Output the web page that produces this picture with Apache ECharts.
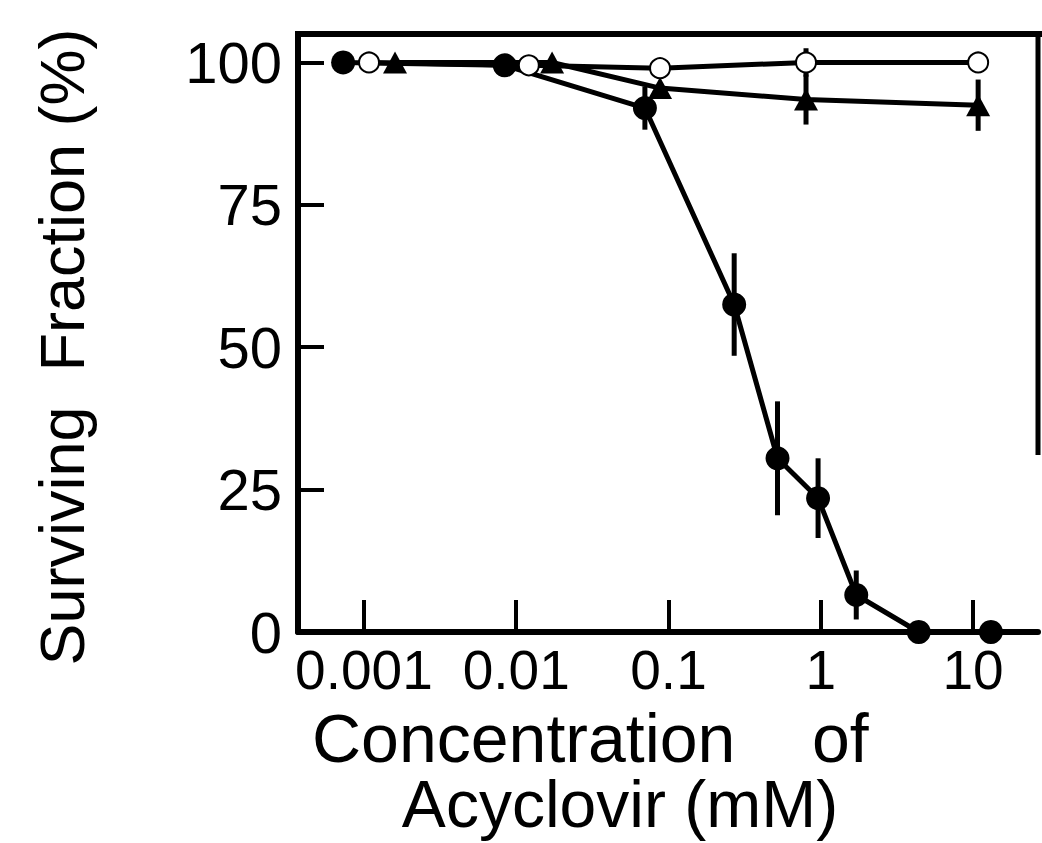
<!DOCTYPE html>
<html>
<head>
<meta charset="utf-8">
<script src="https://cdn.jsdelivr.net/npm/echarts@6/dist/echarts.min.js"></script>
<style>
  html, body { margin: 0; padding: 0; background: #fff; }
  #chart { width: 1042px; height: 843px; }
</style>
</head>
<body>
<div id="chart"></div>
<script>
// x tick values (mM), y tick values (%)
const xTicks = [0.001, 0.01, 0.1, 1, 10];
const xTickLabels = ['0.001', '0.01', '0.1', '1', '10'];
const yTicks = [0, 25, 50, 75, 100];

// filled circles
const concFilled = [0.00073, 0.0084, 0.070, 0.27, 0.52, 0.96, 1.71, 4.4, 13.1];
const survFilled = [100, 99.5, 92, 57.5, 30.5, 23.5, 6.5, 0, 0];
const errFilled = [0, 0, 3.8, 9, 10, 7, 4.3, 0, 0];

// open circles
const concOpen = [0.00108, 0.0121, 0.088, 0.80, 10.8];
const survOpen = [100, 99.5, 99, 100, 100];
const errOpen = [0, 0, 0, 2.5, 0];

// filled triangles
const concTri = [0.0016, 0.0172, 0.088, 0.80, 10.8];
const survTri = [100, 100, 95.5, 93.5, 92.5];
const errTri = [0, 0, 0, 4.4, 4.5];

const FONT = "'Liberation Sans', Arial, sans-serif";

const pairs = (xs, ys) => xs.map((x, i) => [x, ys[i]]);
const bars = (xs, ys, es) =>
  xs.map((x, i) => [x, ys[i] - es[i], ys[i] + es[i]]).filter((d, i) => es[i] > 0);

// vertical error bars without caps
const errorSeries = (data) => ({
  type: 'custom',
  z: 1,
  data: data,
  renderItem: function (params, api) {
    const lo = api.coord([api.value(0), api.value(1)]);
    const hi = api.coord([api.value(0), api.value(2)]);
    return {
      type: 'line',
      shape: { x1: lo[0], y1: lo[1], x2: hi[0], y2: hi[1] },
      style: { stroke: '#000', lineWidth: 5 }
    };
  }
});

const chart = echarts.init(document.getElementById('chart'), null, { renderer: 'svg' });

chart.setOption({
  animation: false,
  backgroundColor: '#fff',
  grid: { left: 298, right: 4, top: 34, bottom: 211 },
  xAxis: {
    type: 'log',
    logBase: 10,
    min: 0.000369,
    max: 26.7,
    axisLine: { lineStyle: { color: '#000', width: 6 } },
    axisTick: {
      inside: true,
      length: 32,
      customValues: xTicks,
      lineStyle: { color: '#000', width: 4 }
    },
    axisLabel: {
      customValues: xTicks,
      formatter: (v) => xTickLabels[xTicks.findIndex((t) => Math.abs(t - v) / t < 1e-6)],
      color: '#000',
      fontSize: 55,
      fontFamily: FONT,
      margin: 10
    },
    splitLine: { show: false },
    minorTick: { show: false }
  },
  yAxis: {
    type: 'value',
    min: 0,
    max: 105,
    axisLine: { show: true, lineStyle: { color: '#000', width: 6 } },
    axisTick: {
      inside: true,
      length: 26,
      customValues: yTicks,
      lineStyle: { color: '#000', width: 4 }
    },
    axisLabel: {
      customValues: yTicks,
      color: '#000',
      fontSize: 58,
      fontFamily: FONT,
      margin: 16
    },
    splitLine: { show: false }
  },
  graphic: [
    {
      type: 'line',
      shape: { x1: 295, y1: 34, x2: 1042, y2: 34 },
      style: { stroke: '#000', lineWidth: 6 }
    },
    {
      type: 'line',
      shape: { x1: 1038, y1: 31, x2: 1038, y2: 455 },
      style: { stroke: '#000', lineWidth: 5 }
    },
    {
      type: 'text',
      x: 62,
      y: 347,
      rotation: Math.PI / 2,
      style: {
        text: 'Surviving  Fraction (%)',
        fill: '#000',
        font: '63px ' + FONT,
        textAlign: 'center',
        textVerticalAlign: 'middle'
      }
    },
    {
      type: 'text',
      x: 312,
      y: 738,
      style: {
        text: 'Concentration',
        fill: '#000',
        font: '68px ' + FONT,
        textAlign: 'left',
        textVerticalAlign: 'middle'
      }
    },
    {
      type: 'text',
      x: 812,
      y: 738,
      style: {
        text: 'of',
        fill: '#000',
        font: '68px ' + FONT,
        textAlign: 'left',
        textVerticalAlign: 'middle'
      }
    },
    {
      type: 'text',
      x: 620,
      y: 804,
      style: {
        text: 'Acyclovir (mM)',
        fill: '#000',
        font: '66px ' + FONT,
        textAlign: 'center',
        textVerticalAlign: 'middle'
      }
    }
  ],
  series: [
    errorSeries(bars(concFilled, survFilled, errFilled)),
    errorSeries(bars(concOpen, survOpen, errOpen)),
    errorSeries(bars(concTri, survTri, errTri)),
    {
      name: 'filled',
      type: 'line',
      z: 3,
      data: pairs(concFilled, survFilled),
      symbol: 'circle',
      symbolSize: 24,
      lineStyle: { color: '#000', width: 5 },
      itemStyle: { color: '#000' }
    },
    {
      name: 'triangle',
      type: 'line',
      z: 2,
      data: pairs(concTri, survTri),
      symbol: 'triangle',
      symbolSize: [24, 22],
      lineStyle: { color: '#000', width: 5 },
      itemStyle: { color: '#000' }
    },
    {
      name: 'open',
      type: 'line',
      z: 4,
      data: pairs(concOpen, survOpen),
      symbol: 'emptyCircle',
      symbolSize: 20,
      lineStyle: { color: '#000', width: 5 },
      itemStyle: { color: '#000', borderColor: '#000', borderWidth: 5 }
    }
  ]
});
</script>
</body>
</html>
